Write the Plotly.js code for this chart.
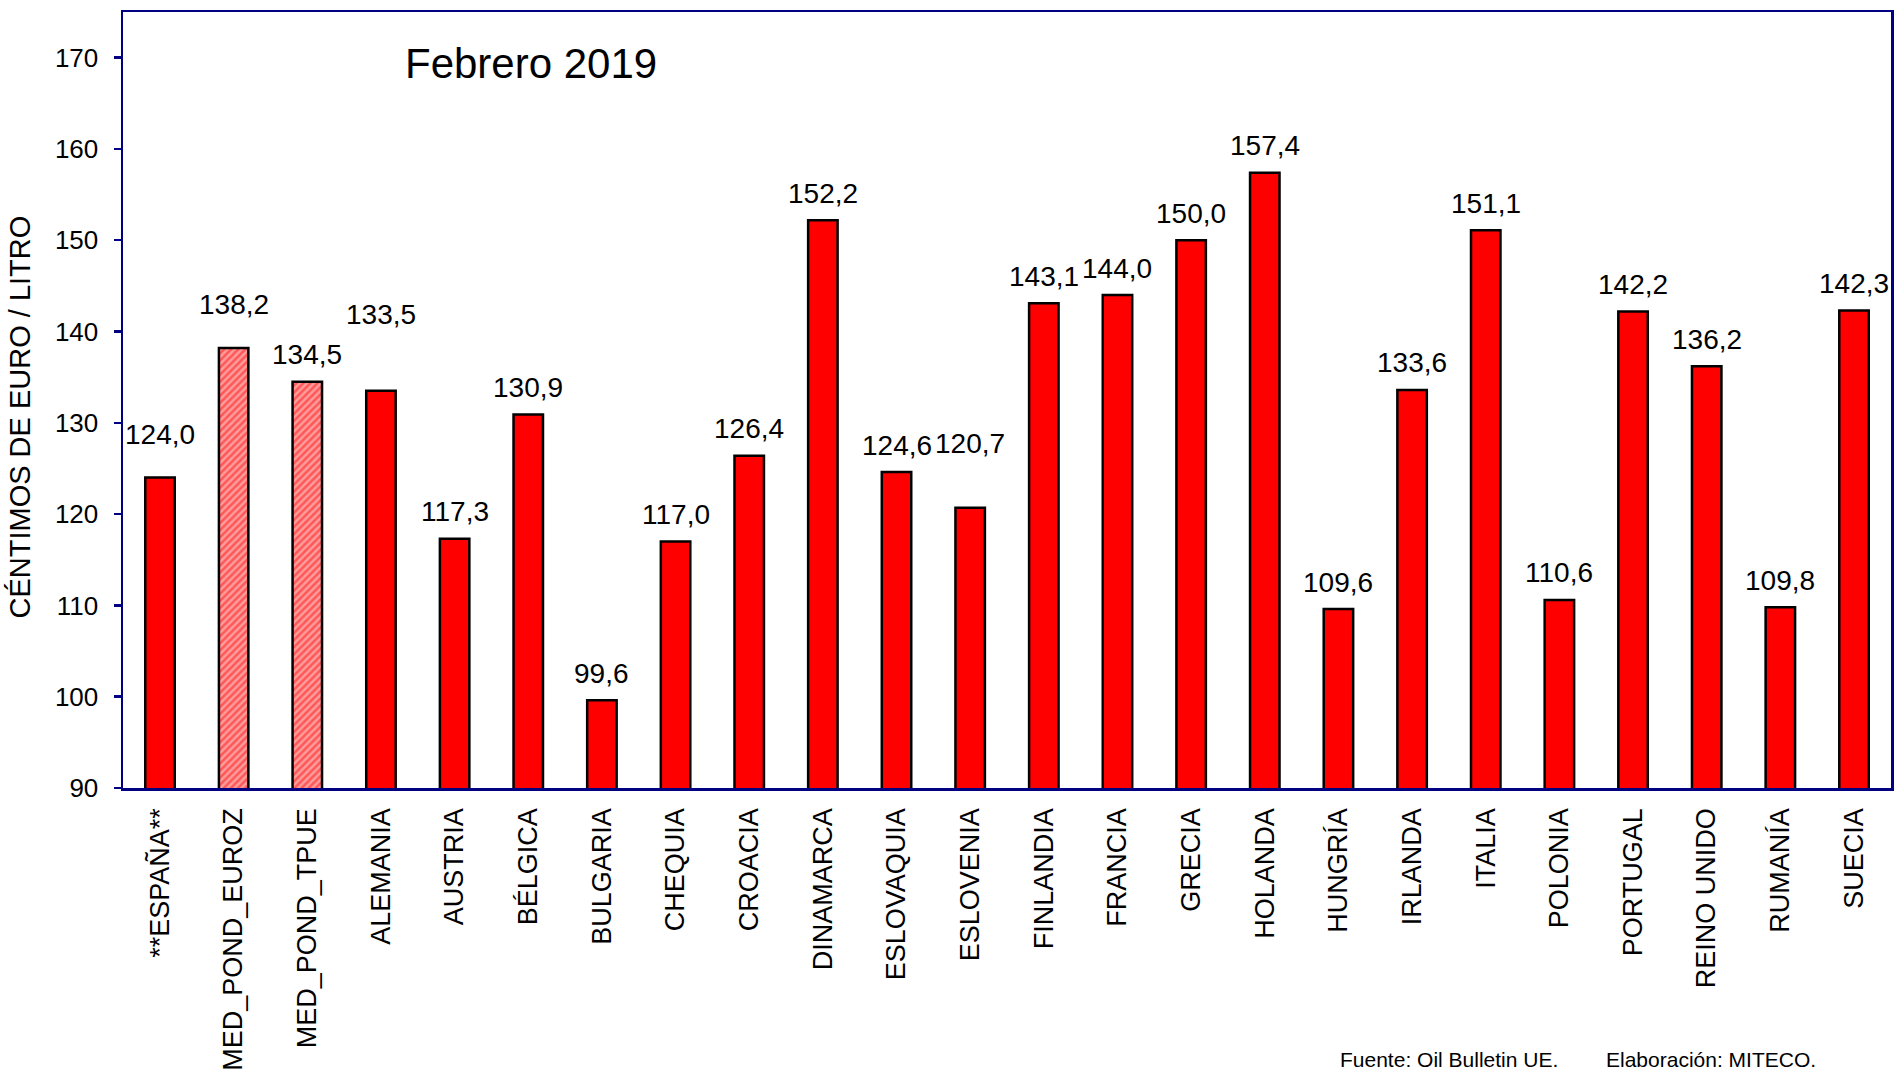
<!DOCTYPE html>
<html>
<head>
<meta charset="utf-8">
<script src="https://cdn.plot.ly/plotly-3.0.1.min.js"></script>
<style>
  html, body { margin: 0; padding: 0; background: #ffffff; }
  #chart { width: 1895px; height: 1077px; }
</style>
</head>
<body>
<div id="chart"></div>
<script>
// ---- Data ----
const categories = ["**ESPAÑA**", "MED_POND_EUROZ", "MED_POND_TPUE", "ALEMANIA", "AUSTRIA", "BÉLGICA",
  "BULGARIA", "CHEQUIA", "CROACIA", "DINAMARCA", "ESLOVAQUIA", "ESLOVENIA", "FINLANDIA", "FRANCIA",
  "GRECIA", "HOLANDA", "HUNGRÍA", "IRLANDA", "ITALIA", "POLONIA", "PORTUGAL", "REINO UNIDO", "RUMANÍA", "SUECIA"];
const prices = [124.0, 138.2, 134.5, 133.5, 117.3, 130.9, 99.6, 117.0, 126.4, 152.2, 124.6, 120.7, 143.1,
  144.0, 150.0, 157.4, 109.6, 133.6, 151.1, 110.6, 142.2, 136.2, 109.8, 142.3];
const averageCategories = ["MED_POND_EUROZ", "MED_POND_TPUE"];
const yTickValues = [90, 100, 110, 120, 130, 140, 150, 160, 170];

// label lift above the bar top (pixels) – presentation only
const labelLift = [43, 43, 27, 76, 27, 27, 27, 27, 27, 27, 27, 64, 27, 27, 27, 27, 27, 27, 27, 27, 27, 27, 27, 27];

const FONT = 'Arial, "Liberation Sans", sans-serif';
const NAVY = '#000080';

const normX = [], normY = [], avgX = [], avgY = [];
categories.forEach((c, i) => {
  if (averageCategories.includes(c)) { avgX.push(c); avgY.push(prices[i]); }
  else { normX.push(c); normY.push(prices[i]); }
});

const traces = [
  {
    type: 'bar', x: normX, y: normY, name: 'Países',
    marker: { color: '#FF0000', line: { color: '#000000', width: 2.5 } },
    hoverinfo: 'x+y'
  },
  {
    type: 'bar', x: avgX, y: avgY, name: 'Medias',
    marker: {
      color: '#FF8A8A',
      line: { color: '#000000', width: 2.5 },
      pattern: { shape: '/', fgcolor: '#FF1010', bgcolor: '#FF9C9C', size: 5, solidity: 0.5, fillmode: 'overlay' }
    },
    hoverinfo: 'x+y'
  }
];

const annotations = categories.map((c, i) => ({
  x: c, y: prices[i], xref: 'x', yref: 'y',
  text: prices[i].toFixed(1).replace('.', ','),
  showarrow: false, yanchor: 'middle', xanchor: 'center', yshift: labelLift[i],
  font: { family: FONT, size: 28, color: '#000000' }
}));

annotations.push({
  xref: 'paper', yref: 'paper', x: 0.2308, y: 0.934, xanchor: 'center', yanchor: 'middle',
  text: 'Febrero 2019', showarrow: false, font: { family: FONT, size: 42, color: '#000000' }
});
annotations.push({
  xref: 'paper', yref: 'paper', x: -0.058, y: 0.478, xanchor: 'center', yanchor: 'middle',
  text: 'CÉNTIMOS DE EURO / LITRO', textangle: -90, showarrow: false,
  font: { family: FONT, size: 29, color: '#000000' }
});
annotations.push({
  xref: 'paper', yref: 'paper', x: 0.6872, y: -0.3505, xanchor: 'left', yanchor: 'middle',
  text: 'Fuente: Oil Bulletin UE.', showarrow: false, font: { family: FONT, size: 21, color: '#000000' }
});
annotations.push({
  xref: 'paper', yref: 'paper', x: 0.8377, y: -0.3505, xanchor: 'left', yanchor: 'middle',
  text: 'Elaboración: MITECO.', showarrow: false, font: { family: FONT, size: 21, color: '#000000' }
});

const layout = {
  width: 1895, height: 1077,
  margin: { l: 123, r: 4, t: 12, b: 289, pad: 0 },
  paper_bgcolor: '#ffffff', plot_bgcolor: '#ffffff',
  showlegend: false,
  barmode: 'overlay',
  bargap: 0.6,
  font: { family: FONT, color: '#000000' },
  xaxis: {
    type: 'category', categoryorder: 'array', categoryarray: categories,
    showline: true, linecolor: NAVY, linewidth: 2.5, mirror: true,
    showgrid: false, zeroline: false, ticks: '', tickangle: -90,
    ticklabelstandoff: 7,
    tickfont: { family: FONT, size: 27, color: '#000000' }
  },
  yaxis: {
    range: [90, 175], tickvals: yTickValues, ticktext: yTickValues.map(String),
    showline: true, linecolor: NAVY, linewidth: 2.5, mirror: true,
    showgrid: false, zeroline: false,
    ticks: 'outside', ticklen: 7, tickwidth: 2.5, tickcolor: NAVY,
    ticklabelstandoff: 10,
    tickfont: { family: FONT, size: 26, color: '#000000' }
  },
  annotations: annotations
};

Plotly.newPlot('chart', traces, layout, { displayModeBar: false, staticPlot: true });
</script>
</body>
</html>
